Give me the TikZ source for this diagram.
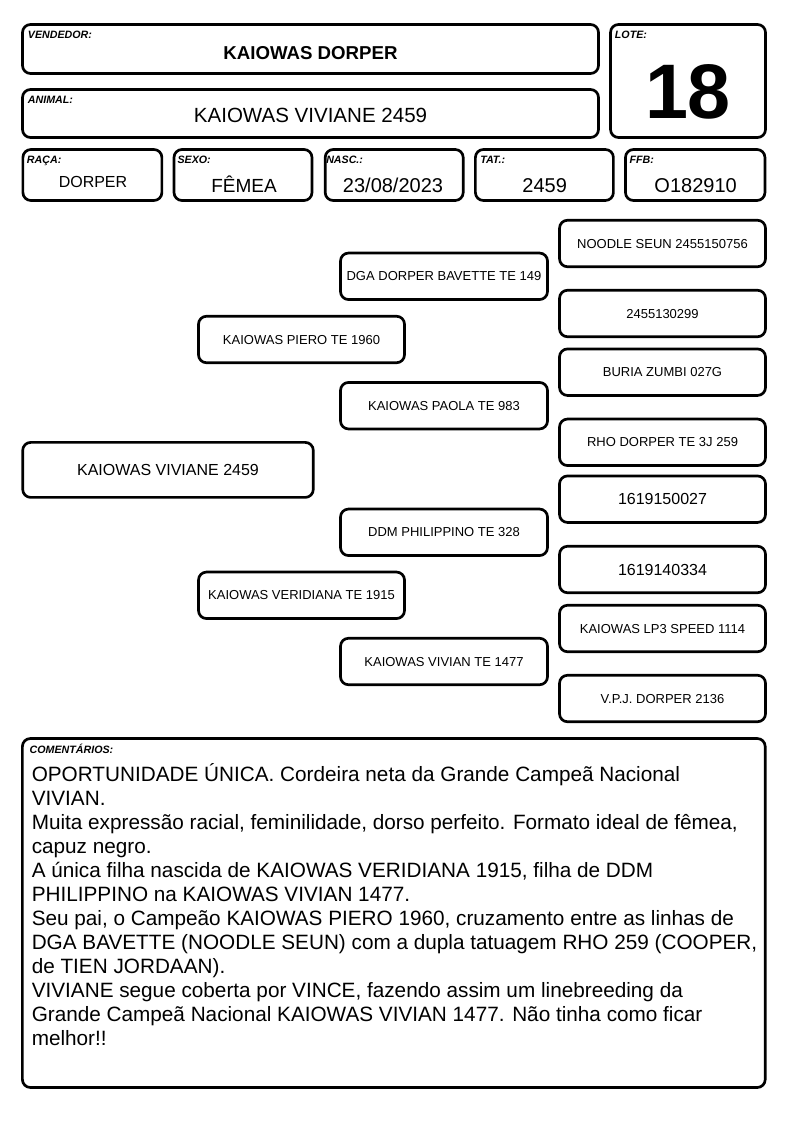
\documentclass[tikz,border=0pt]{standalone}
\usepackage{fontspec}
\setmainfont{Liberation Sans}
\begin{document}
\begin{tikzpicture}[x=0.75pt,y=-0.75pt,
  bx/.style={draw, line width=2pt, rounded corners=6pt, inner sep=0pt, align=center},
  sz/.style 2 args={minimum width=#1*0.75pt, minimum height=#2*0.75pt},
  lbl/.style={font=\fontsize{8pt}{9pt}\selectfont\bfseries\itshape, inner sep=0pt, anchor=base west},
  val/.style={inner sep=0pt, anchor=base},
  ped/.style={bx, font=\fontsize{9.75pt}{11pt}\selectfont, text height=7pt, text depth=0pt},
  pedbig/.style={bx, font=\fontsize{12pt}{14pt}\selectfont, text height=8.6pt, text depth=0pt},
  rcol/.style={sz={206}{46.5}},
  mcol/.style={sz={207}{46.5}},
  scol/.style={sz={206}{46.5}}]
\useasboundingbox (0,0) rectangle (794,1123);
% header
\node[bx, sz={576}{49}] (vend) at (310.5,49) {};
\node[lbl] (vendl) at (27.7,39) {VENDEDOR:};
\node[val, font=\fontsize{14pt}{16pt}\selectfont\bfseries] (vendv) at (310.5,60) {KAIOWAS DORPER};
\node[bx, sz={576}{48}] (anim) at (310.5,113.5) {};
\node[lbl] (animl) at (27.7,103.3) {ANIMAL:};
\node[val, font=\fontsize{15.4pt}{18pt}\selectfont] (animv) at (310.5,123) {KAIOWAS VIVIANE 2459};
\node[bx, sz={155}{113}] (lote) at (688,81) {};
\node[lbl] (lotel) at (614.7,39) {LOTE:};
\node[val, font=\fontsize{58pt}{60pt}\selectfont\bfseries] (lotev) at (688,119) {18};
% row 3
\node[bx, sz={139}{51}] (raca) at (92.4,175) {};
\node[lbl] (racal) at (26.7,163.3) {RAÇA:};
\node[val, font=\fontsize{12pt}{14pt}\selectfont] (racav) at (93,188) {DORPER};
\node[bx, sz={138}{51}] (sexo) at (243,175) {};
\node[lbl] (sexol) at (177.3,163.3) {SEXO:};
\node[val, font=\fontsize{14.25pt}{16pt}\selectfont] (sexov) at (244,193) {FÊMEA};
\node[bx, sz={138}{51}] (nasc) at (394.2,175) {};
\node[lbl] (nascl) at (326,163.3) {NASC.:};
\node[val, font=\fontsize{15pt}{17pt}\selectfont] (nascv) at (393,193) {23/08/2023};
\node[bx, sz={138}{51}] (tat) at (544.4,175) {};
\node[lbl] (tatl) at (480,163.3) {TAT.:};
\node[val, font=\fontsize{15pt}{17pt}\selectfont] (tatv) at (544.7,193) {2459};
\node[bx, sz={139.5}{51}] (ffb) at (695.2,175) {};
\node[lbl] (ffbl) at (629.3,163.3) {FFB:};
\node[val, font=\fontsize{15pt}{17pt}\selectfont] (ffbv) at (695.6,193) {O182910};
% pedigree
\node[pedbig, sz={290.6}{55}] (subj) at (168,469.9) {KAIOWAS VIVIANE 2459};
\node[ped, scol] (sire) at (301.5,339.5) {KAIOWAS PIERO TE 1960};
\node[ped, scol] (dam) at (301.5,595.3) {KAIOWAS VERIDIANA TE 1915};
\node[ped, mcol] (ss) at (444,276.3) {DGA DORPER BAVETTE TE 149};
\node[ped, mcol] (sd) at (444,405.7) {KAIOWAS PAOLA TE 983};
\node[ped, mcol] (ds) at (444,532.3) {DDM PHILIPPINO TE 328};
\node[ped, mcol] (dd) at (444,661.5) {KAIOWAS VIVIAN TE 1477};
\node[ped, rcol] (sss) at (662.5,243.5) {NOODLE SEUN 2455150756};
\node[ped, rcol] (ssd) at (662.5,313.5) {2455130299};
\node[ped, rcol] (sds) at (662.5,372.2) {BURIA ZUMBI 027G};
\node[ped, rcol] (sdd) at (662.5,442.3) {RHO DORPER TE 3J 259};
\node[pedbig, rcol] (dss) at (662.5,499.2) {1619150027};
\node[pedbig, rcol] (dsd) at (662.5,569.5) {1619140334};
\node[ped, rcol] (dds) at (662.5,628.5) {KAIOWAS LP3 SPEED 1114};
\node[ped, rcol] (ddd) at (662.5,698.5) {V.P.J. DORPER 2136};
% comments
\node[bx, sz={742.8}{349}] (com) at (393.8,913) {};
\node[lbl] (coml) at (29.4,753) {COMENTÁRIOS:};
\node[inner sep=0pt, anchor=base west, align=left, font=\fontsize{15.55pt}{18pt}\selectfont] (comv) at (31.5,1045.5)
{OPORTUNIDADE ÚNICA. Cordeira neta da Grande Campeã Nacional\\
VIVIAN.\\
Muita expressão racial, feminilidade, dorso perfeito. Formato ideal de fêmea,\\
capuz negro.\\
A única filha nascida de KAIOWAS VERIDIANA 1915, filha de DDM\\
PHILIPPINO na KAIOWAS VIVIAN 1477.\\
Seu pai, o Campeão KAIOWAS PIERO 1960, cruzamento entre as linhas de\\
DGA BAVETTE (NOODLE SEUN) com a dupla tatuagem RHO 259 (COOPER,\\
de TIEN JORDAAN).\\
VIVIANE segue coberta por VINCE, fazendo assim um linebreeding da\\
Grande Campeã Nacional KAIOWAS VIVIAN 1477. Não tinha como ficar\\
melhor!!};
\end{tikzpicture}
\end{document}
